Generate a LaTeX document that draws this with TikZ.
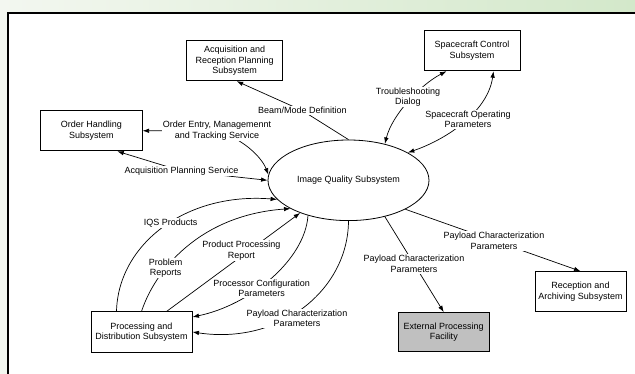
\documentclass[tikz,border=0pt]{standalone}
\usepackage{fontspec}
\setmainfont{Liberation Sans}
\usetikzlibrary{arrows.meta,shapes.geometric,calc}
\definecolor{bgleft}{HTML}{F3F7F0}
\definecolor{bgright}{HTML}{D3E8CA}
\definecolor{extgray}{HTML}{C0C0C0}
\begin{document}
\begin{tikzpicture}[x=1pt,y=-1pt,
  font=\fontsize{9}{10.5}\selectfont,
  box/.style={draw, line width=1pt, align=center, inner sep=1pt},
  lbl/.style={fill=white, align=center, inner sep=1pt},
  conn/.style={line width=0.7pt},
  arr/.style={-{Latex[length=6.5pt,width=4.5pt]}},
  arrboth/.style={{Latex[length=6.5pt,width=4.5pt]}-{Latex[length=6.5pt,width=4.5pt]}}]
\useasboundingbox (0,0) rectangle (635,374);
\shade[left color=bgleft, right color=bgright] (0,0) rectangle (635,374);
\fill[white] (8.7,14) rectangle (635,374);
\draw[line width=2pt] (7.7,374) -- (7.7,13) -- (635,13);

% nodes
\node[box, minimum width=96pt, minimum height=40pt] (acq) at (234.7,60.7) {Acquisition and\\Reception Planning\\Subsystem};
\node[box, minimum width=96pt, minimum height=40pt] (sc) at (472,50.7) {Spacecraft Control\\Subsystem};
\node[box, minimum width=101.5pt, minimum height=40pt] (oh) at (91.3,130.8) {Order Handling\\Subsystem};
\node[draw, ellipse, line width=0.8pt, minimum width=161pt, minimum height=80.6pt, inner sep=0pt] (iqs) at (348.5,180.3) {Image Quality Subsystem};
\node[box, minimum width=101pt, minimum height=40pt] (pd) at (141.5,332) {Processing and\\Distribution Subsystem};
\node[box, fill=extgray, minimum width=90.5pt, minimum height=39.3pt] (ext) at (443.75,332.3) {External Processing\\Facility};
\node[box, minimum width=91pt, minimum height=39.6pt] (rec) at (580.5,291.5) {Reception and\\Archiving Subsystem};

% label positions
\coordinate (cBeam) at (302.5,110.7);
\coordinate (cOE) at (217,130.5);
\coordinate (cAPS) at (181.5,171);
\coordinate (cTD) at (408,97);
\coordinate (cSOP) at (468,119.5);
\coordinate (cIQS) at (170.7,222.7);
\coordinate (cPR) at (165.6,268);
\coordinate (cPPR) at (241.4,250.5);
\coordinate (cPCP) at (261.6,288.5);
\coordinate (cPay1) at (297,318.3);
\coordinate (cPay2) at (414,264);
\coordinate (cPay3) at (494,241);

% connectors
\draw[conn, arr] (iqs.north) -- (cBeam) -- ([xshift=2pt]acq.south);
\draw[conn, arrboth] (oh.east) -- (cOE) .. controls (245,140) and (262,158) .. (iqs.176);
\draw[conn, arrboth] ([xshift=26pt]oh.south) -- (cAPS) -- (iqs.west);
\draw[conn, arrboth] (iqs.45) .. controls (392,115) and (420,85) .. ([xshift=-25.5pt]sc.south);
\draw[conn, arrboth] (iqs.25) .. controls (450,138) and (488,110) .. ([xshift=21.5pt]sc.south);
\draw[conn, arr] ([xshift=-25pt]pd.north) .. controls (118,245) and (185,192) .. (iqs.195);
\draw[conn, arr] (pd.north) .. controls (155,270) and (200,215) .. (iqs.206);
\draw[conn, arr] ([xshift=25pt]pd.north) -- (iqs.214);
\draw[conn, arr] (iqs.221) .. controls (305,260) and (250,305) .. ([yshift=15pt]pd.east);
\draw[conn, arr] (iqs.south) .. controls (348,290) and (280,345) .. (pd.east);
\draw[conn, arr] (iqs.315) -- (ext.north);
\draw[conn, arr] (iqs.333) -- (rec.north);

% labels
\node[lbl] (lBeam) at (cBeam) {Beam/Mode Definition};
\node[lbl] (lOE) at (cOE) {Order Entry, Managemennt\\and Tracking Service};
\node[lbl] (lAPS) at (cAPS) {Acquisition Planning Service};
\node[lbl] (lTD) at (cTD) {Troubleshooting\\Dialog};
\node[lbl] (lSOP) at (cSOP) {Spacecraft Operating\\Parameters};
\node[lbl] (lIQS) at (cIQS) {IQS Products};
\node[lbl] (lPR) at (cPR) {Problem\\Reports};
\node[lbl] (lPPR) at (cPPR) {Product Processing\\Report};
\node[lbl] (lPCP) at (cPCP) {Processor Configuration\\Parameters};
\node[lbl] (lPay1) at (cPay1) {Payload Characterization\\Parameters};
\node[lbl] (lPay2) at (cPay2) {Payload Characterization\\Parameters};
\node[lbl] (lPay3) at (cPay3) {Payload Characterization\\Parameters};
\end{tikzpicture}
\end{document}
